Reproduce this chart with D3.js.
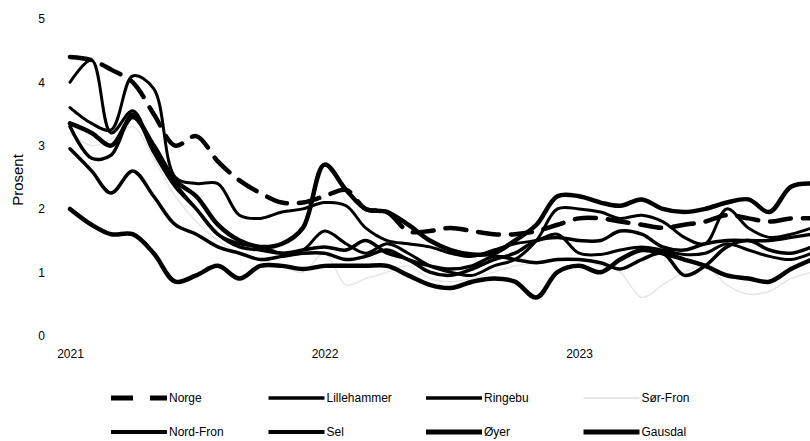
<!DOCTYPE html>
<html lang="no">
<head>
  <meta charset="utf-8">
  <title>Arbeidsledighet</title>
<style>
  body { margin: 0; background: #fff; }
  text { font-family: "Liberation Sans Narrow", "Liberation Sans", Arial, sans-serif; fill: #000; }
  .serie { fill: none; stroke-linejoin: round; stroke-linecap: round; }
</style>
  <script src="https://d3js.org/d3.v7.min.js"></script>
</head>
<body>
<svg width="810" height="441"></svg>
<script>
// data (prosent), jan 2021 - des 2023
var norge       = [4.4,4.35,4.2,4.0,3.5,3.0,3.15,2.75,2.45,2.25,2.1,2.1, 2.2,2.3,2.0,1.95,1.65,1.65,1.7,1.65,1.6,1.6,1.65,1.75, 1.85,1.85,1.8,1.75,1.7,1.75,1.8,1.9,1.85,1.8,1.85,1.85];
var lillehammer = [3.6,3.35,3.25,4.1,3.9,2.5,2.4,2.4,1.9,1.85,1.95,2.0, 2.1,2.05,1.7,1.5,1.45,1.4,1.3,1.25,1.35,1.45,1.5,1.6, 1.3,1.28,1.35,1.4,1.35,1.28,1.3,1.45,1.35,1.25,1.2,1.3];
var ringebu     = [4.0,4.35,3.2,3.55,2.9,2.4,2.0,1.6,1.45,1.4,1.3,1.35, 1.65,1.45,1.3,1.45,1.3,1.1,1.0,0.95,1.1,1.2,1.5,2.0, 2.0,1.95,1.85,1.9,1.8,1.55,1.45,2.0,1.7,1.55,1.6,1.7];
var sorFron     = [3.2,3.0,3.1,3.3,2.8,2.2,1.8,1.5,1.3,1.2,1.1,1.0, 1.3,0.8,0.9,1.0,1.1,0.9,0.85,0.9,1.0,1.1,1.15,1.2, 1.2,1.1,1.0,0.6,0.8,1.0,1.1,0.8,0.65,0.7,0.9,1.0];
var nordFron    = [2.95,2.6,2.25,2.6,2.2,1.75,1.6,1.4,1.3,1.2,1.25,1.3, 1.3,1.2,1.25,1.35,1.2,1.1,1.05,1.1,1.25,1.2,1.15,1.2, 1.2,1.15,1.05,1.2,1.3,0.95,1.1,1.4,1.5,1.35,1.3,1.4];
var sel         = [3.3,2.8,2.85,3.5,2.9,2.35,2.0,1.6,1.4,1.35,1.3,1.35, 1.4,1.35,1.5,1.3,1.2,1.0,0.95,1.05,1.2,1.3,1.5,1.55, 1.5,1.5,1.65,1.6,1.4,1.35,1.45,1.5,1.5,1.5,1.55,1.6];
var oyer        = [2.0,1.75,1.6,1.6,1.3,0.85,0.95,1.1,0.9,1.1,1.1,1.05, 1.1,1.1,1.1,1.1,0.95,0.8,0.75,0.85,0.9,0.85,0.6,1.0, 1.1,1.0,1.2,1.35,1.3,1.2,1.1,0.95,0.9,0.85,1.05,1.2];
var gausdal     = [3.35,3.2,3.0,3.45,3.0,2.45,2.2,1.75,1.5,1.4,1.45,1.7, 2.7,2.3,2.0,1.95,1.75,1.5,1.35,1.28,1.3,1.5,1.75,2.2, 2.2,2.1,2.05,2.15,2.0,1.95,2.0,2.1,2.15,1.95,2.35,2.4];

var months = d3.timeMonth.range(new Date(2021, 0, 1), new Date(2024, 0, 1));
var yTicks = [0, 1, 2, 3, 4, 5];
var xTicks = [new Date(2021, 0, 1), new Date(2022, 0, 1), new Date(2023, 0, 1)];

var series = [
  {name: "Norge",       values: norge,       color: "#000", width: 4.5, dash: "21,12"},
  {name: "Lillehammer", values: lillehammer, color: "#000", width: 3},
  {name: "Ringebu",     values: ringebu,     color: "#000", width: 3},
  {name: "Sør-Fron",    values: sorFron,     color: "#e6e6e6", width: 1.5},
  {name: "Nord-Fron",   values: nordFron,    color: "#000", width: 3.5},
  {name: "Sel",         values: sel,         color: "#000", width: 3.5},
  {name: "Øyer",        values: oyer,        color: "#000", width: 4.5},
  {name: "Gausdal",     values: gausdal,     color: "#000", width: 4.5}
];

var svg = d3.select("svg");

var x = d3.scaleTime()
    .domain([new Date(2021, 0, 1), new Date(2023, 0, 1)])
    .range([70, 579]);
var y = d3.scaleLinear()
    .domain([0, 5])
    .range([335.5, 19]);

// axes: only the labels are visible
var yAxis = svg.append("g")
    .attr("transform", "translate(45,0)")
    .call(d3.axisLeft(y).tickValues(yTicks).tickSize(0).tickPadding(0).tickFormat(d3.format("d")));
yAxis.select(".domain").remove();
yAxis.selectAll("text").attr("font-size", 12).attr("font-family", null);

var xAxis = svg.append("g")
    .attr("transform", "translate(0,345)")
    .call(d3.axisBottom(x).tickValues(xTicks).tickSize(0).tickPadding(4).tickFormat(d3.timeFormat("%Y")));
xAxis.select(".domain").remove();
xAxis.selectAll("text").attr("font-size", 12).attr("font-family", null);

svg.append("text")
    .attr("transform", "translate(23,180) rotate(-90)")
    .attr("text-anchor", "middle")
    .attr("font-size", 15)
    .text("Prosent");

var line = d3.line()
    .x(function(d, i) { return x(months[i]); })
    .y(function(d) { return y(d); })
    .curve(d3.curveCatmullRom.alpha(0.5));

// light series first so it sits under the others
var order = [3, 1, 2, 4, 5, 6, 7, 0];
svg.append("g")
    .selectAll("path")
    .data(order.map(function(k) { return series[k]; }))
    .enter().append("path")
      .attr("class", "serie")
      .attr("stroke", function(d) { return d.color; })
      .attr("stroke-width", function(d) { return d.width; })
      .attr("stroke-dasharray", function(d) { return d.dash || null; })
      .attr("stroke-linecap", function(d) { return d.dash ? "butt" : "round"; })
      .attr("d", function(d) { return line(d.values); });

// legend, 4 columns x 2 rows
var legend = svg.append("g")
    .selectAll("g")
    .data(series)
    .enter().append("g")
      .attr("transform", function(d, i) {
          return "translate(" + (111 + (i % 4) * 157.5) + "," + (i < 4 ? 398 : 432) + ")";
      });

legend.append("line")
    .attr("x1", 0).attr("x2", 56)
    .attr("stroke", function(d) { return d.color; })
    .attr("stroke-width", function(d) { return d.width + 0.5; })
    .attr("stroke-dasharray", function(d) { return d.dash ? "22,17" : null; });

legend.append("text")
    .attr("x", 58)
    .attr("dy", "0.35em")
    .attr("font-size", 12)
    .text(function(d) { return d.name; });
</script>
</body>
</html>
